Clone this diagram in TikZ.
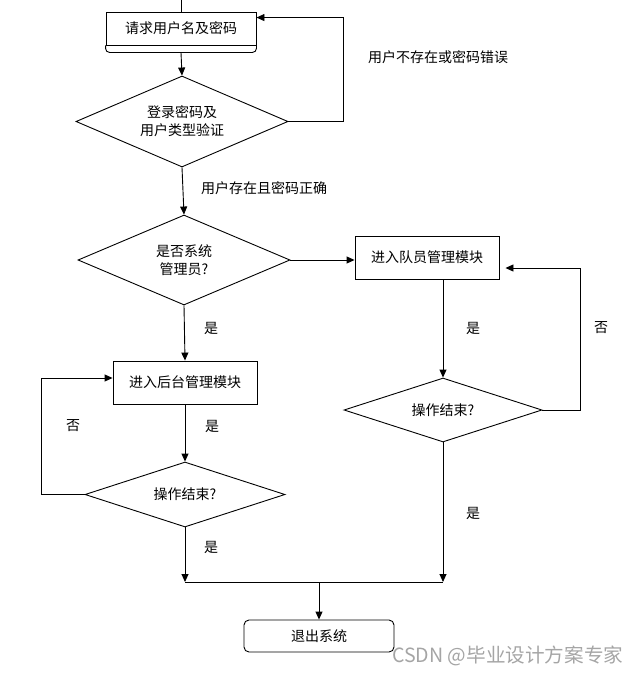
\documentclass[tikz,border=0pt]{standalone}
\usepackage{fontspec}
\newfontfamily\cjk{Noto Sans CJK SC}
\usepackage{tikz}
\usetikzlibrary{positioning,arrows.meta,calc,shapes.geometric}
\definecolor{lnBlack}{RGB}{0,0,0}
\definecolor{wmGray}{RGB}{165,165,165}
\tikzset{
    base/.style={font=\cjk\fontsize{14}{18}\selectfont, align=center},
    process/.style={base, rectangle, draw=lnBlack, line width=0.9pt, fill=white,
                    minimum width=144pt, minimum height=43pt, inner sep=2pt},
    terminal/.style={process, rounded corners=5pt, minimum width=150pt, minimum height=32pt},
    decision/.style={base, diamond, draw=lnBlack, line width=0.9pt, aspect=2.5,
                     inner sep=0pt},
    link/.style={line width=0.9pt, color=lnBlack},
    flow/.style={link, -{Triangle[length=8pt,width=7pt]}},
    label/.style={base, anchor=west, inner sep=0pt}
}

\begin{document}
\begin{tikzpicture}[x=1pt, y=-1pt]
  \useasboundingbox (0,0) rectangle (637,675);

  % Left column
  \coordinate (top) at (181,0);
  \node[process, minimum width=150pt, minimum height=33pt] (start) at (181,28.5) {请求用户名及密码};
  \draw[link, rounded corners=4pt] (start.south west) -- ++(0,7) -| (start.south east);

  \node[decision, minimum width=212pt, minimum height=91pt] (login) at (182,121.5) {登录密码及\\用户类型验证};
  \node[decision, minimum width=212pt, minimum height=90pt] (admin) at (184,260) {是否系统\\管理员?};
  \node[process] (back) at (185,382.5) {进入后台管理模块};
  \node[decision, minimum width=200pt, minimum height=65pt] (done1) at (185,494.5) {操作结束?};

  % Right column
  \node[process] (team) at (427,257.5) {进入队员管理模块};
  \node[decision, minimum width=198pt, minimum height=64pt] (done2) at (443,410) {操作结束?};

  % Exit
  \coordinate (j1) at (185,582);
  \coordinate (j2) at (443,582);
  \coordinate (j3) at (319,582);
  \node[terminal] (quit) at (319,636) {退出系统};

  % Arrows
  \draw[link] (top) -- (start.north);
  \draw[flow] ([yshift=-7pt]start.south) -- (login.north);
  \draw[flow] (login.east) -- ++(55,0) |- ([yshift=-6pt]start.north east);
  \draw[flow] (login.south) -- (admin.north);
  \draw[flow] (admin.east) -- (admin.east -| team.west);
  \draw[flow] (admin.south) -- (back.north);
  \draw[flow] (back.south) -- (done1.north);
  \draw[flow] (done1.west) -- ++(-43,0) |- ([yshift=4.5pt]back.west);
  \draw[flow] (done2.north |- team.south) -- (done2.north);
  \draw[flow] (done2.east) -- ++(38,0) |- ([xshift=6pt,yshift=-10.5pt]team.east);
  \draw[flow] (done1.south) -- (j1);
  \draw[flow] (done2.south) -- (j2);
  \draw[link] (j1) -- (j2);
  \draw[flow] (j3) -- (quit.north);

  % Labels
  \node[label] (lbFail) at (368,57) {用户不存在或密码错误};
  \node[label] (lbOk) at (201,188) {用户存在且密码正确};
  \node[label] (lbYes1) at (204,328) {是};
  \node[label] (lbYes2) at (466,328) {是};
  \node[label] (lbNo2) at (594,328) {否};
  \node[label] (lbYes3) at (205,426) {是};
  \node[label] (lbNo1) at (66,426) {否};
  \node[label] (lbYes4) at (466,513) {是};
  \node[label] (lbYes5) at (204,547) {是};

  % Watermark
  \node[label, font=\cjk\fontsize{19.6}{22}\selectfont, text=wmGray] (mark) at (392,656) {CSDN @毕业设计方案专家};
\end{tikzpicture}
\end{document}
